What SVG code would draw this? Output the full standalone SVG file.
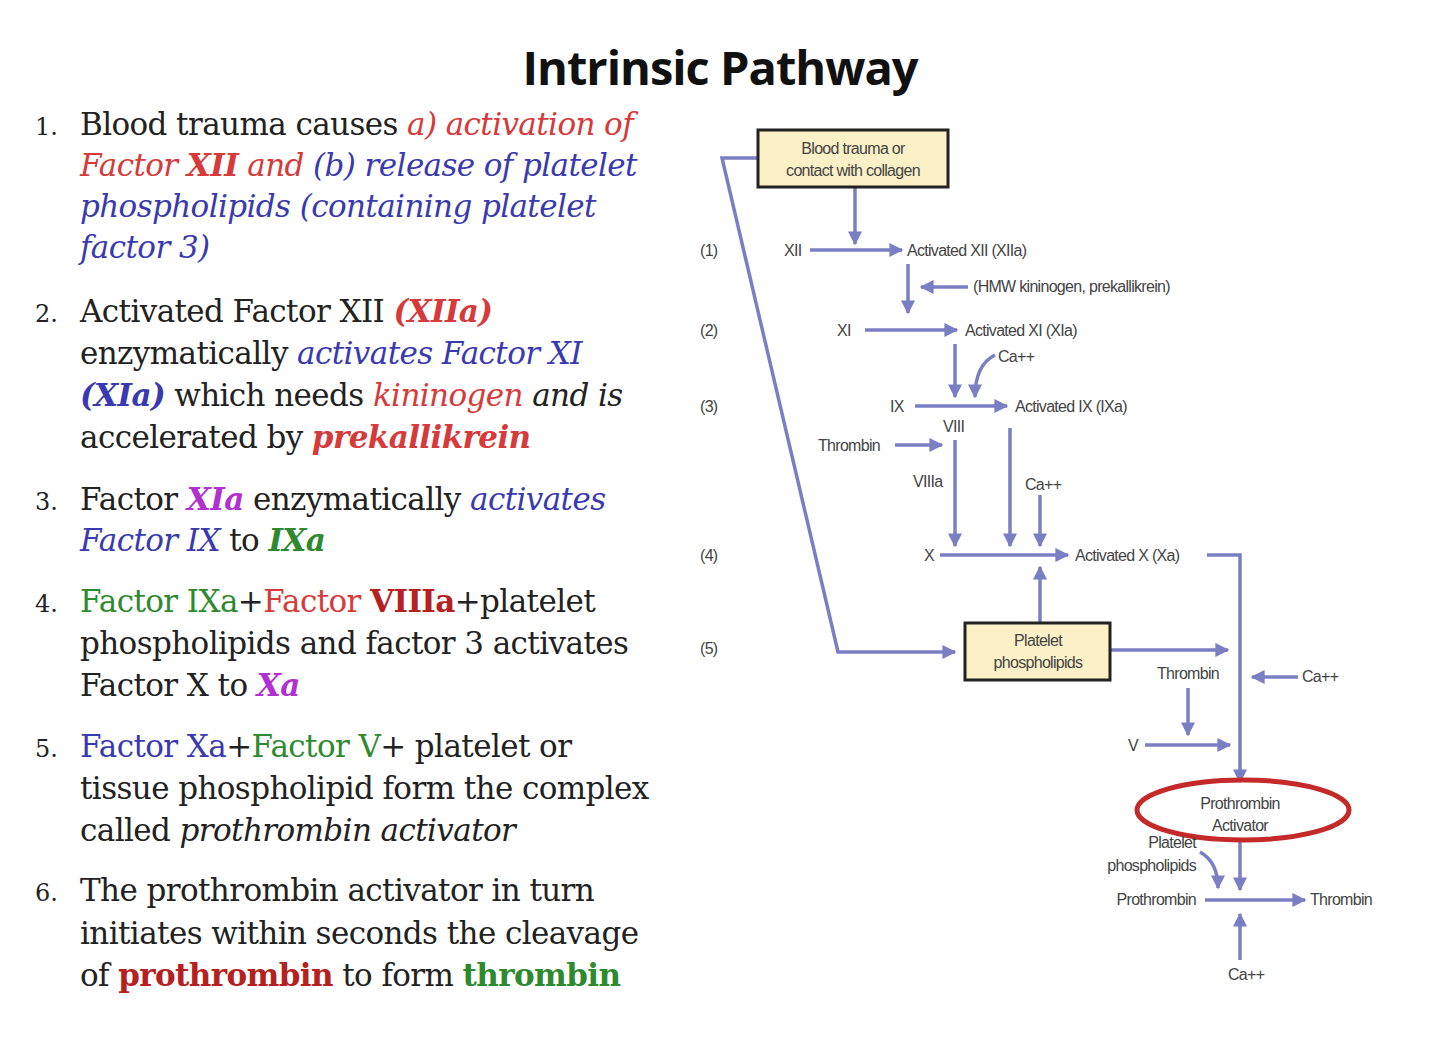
<svg xmlns="http://www.w3.org/2000/svg" width="1440" height="1056" viewBox="0 0 1440 1056">
<defs>
<marker id="ah" viewBox="0 0 10 10" refX="9" refY="5" markerWidth="4" markerHeight="4" orient="auto"><path d="M0,0L10,5L0,10z" fill="#7a7fc4"/></marker>
<style>
.t{font-family:"DejaVu Serif",serif;font-size:31px;fill:#222;letter-spacing:-0.6px}
.n{font-family:"DejaVu Serif",serif;font-size:24px;fill:#222}
.r{fill:#d63a3a;font-style:italic}
.b{fill:#3a3ab0;font-style:italic}
.m{fill:#b030d0;font-style:italic;font-weight:bold}
.g{fill:#2f8a2f}
.dr{fill:#b52020;font-weight:bold}
.s{font-family:"Liberation Sans",Arial,sans-serif;font-size:16px;fill:#444;letter-spacing:-0.7px}
.ln{stroke:#7a7fc4;stroke-width:3.5;fill:none}
.a{stroke:#7a7fc4;stroke-width:3.5;fill:none;marker-end:url(#ah)}
.box{fill:#fbf0c6;stroke:#222;stroke-width:3}
</style>
</defs>
<rect width="1440" height="1056" fill="#fff"/>
<text x="720" y="85" text-anchor="middle" font-family="Open Sans,sans-serif" font-weight="bold" font-size="47" fill="#111" letter-spacing="-1">Intrinsic Pathway</text>

<g id="list">
<text class="n" x="35" y="135">1.</text>
<text class="t" x="80" y="135">Blood trauma causes <tspan class="r"> a) activation of</tspan></text>
<text class="t r" x="80" y="176">Factor <tspan font-weight="bold">XII</tspan> and <tspan class="b">(b) release of platelet</tspan></text>
<text class="t b" x="80" y="217">phospholipids (containing platelet</text>
<text class="t b" x="80" y="258">factor 3)</text>
<text class="n" x="35" y="322">2.</text>
<text class="t" x="80" y="322">Activated Factor XII <tspan class="r" font-weight="bold">(XIIa)</tspan></text>
<text class="t" x="80" y="364">enzymatically <tspan class="b">activates Factor XI</tspan></text>
<text class="t" x="80" y="406"><tspan class="b" font-weight="bold">(XIa)</tspan> which needs <tspan class="r">kininogen</tspan> <tspan font-style="italic">and  is</tspan></text>
<text class="t" x="80" y="448">accelerated by <tspan class="r" font-weight="bold">prekallikrein</tspan></text>
<text class="n" x="35" y="510">3.</text>
<text class="t" x="80" y="510">Factor <tspan class="m">XIa</tspan> enzymatically <tspan class="b">activates</tspan></text>
<text class="t" x="80" y="551"><tspan class="b">Factor IX</tspan>  to <tspan class="g" font-style="italic" font-weight="bold">IXa</tspan></text>
<text class="n" x="35" y="612">4.</text>
<text class="t" x="80" y="612"><tspan class="g">Factor IXa</tspan>+<tspan fill="#d63a3a">Factor </tspan><tspan class="dr">VIIIa</tspan>+platelet</text>
<text class="t" x="80" y="654">phospholipids and factor 3 activates</text>
<text class="t" x="80" y="696">Factor X to <tspan class="m">Xa</tspan></text>
<text class="n" x="35" y="757">5.</text>
<text class="t" x="80" y="757"><tspan fill="#3a3ab0">Factor Xa</tspan>+<tspan class="g">Factor V</tspan>+ platelet or</text>
<text class="t" x="80" y="799">tissue phospholipid form the complex</text>
<text class="t" x="80" y="841">called <tspan font-style="italic">prothrombin activator</tspan></text>
<text class="n" x="35" y="901">6.</text>
<text class="t" x="80" y="901">The prothrombin activator in turn</text>
<text class="t" x="80" y="944">initiates within seconds the cleavage</text>
<text class="t" x="80" y="986">of <tspan class="dr">prothrombin</tspan> to form <tspan class="g" font-weight="bold">thrombin</tspan></text>
</g>

<g id="connectors">
<polyline class="a" points="758,158 722,158 838,652 955,652"/>
<line class="a" x1="855" y1="187" x2="855" y2="244"/>
<line class="a" x1="810" y1="250" x2="902" y2="250"/>
<line class="a" x1="908" y1="264" x2="908" y2="313"/>
<line class="a" x1="968" y1="287" x2="921" y2="287"/>
<line class="a" x1="865" y1="330" x2="957" y2="330"/>
<line class="a" x1="955" y1="344" x2="955" y2="397"/>
<path class="a" d="M995,355 Q975,365 975,397"/>
<line class="a" x1="915" y1="406" x2="1007" y2="406"/>
<line class="a" x1="895" y1="445" x2="942" y2="445"/>
<line class="a" x1="955" y1="440" x2="955" y2="546"/>
<line class="a" x1="1010" y1="428" x2="1010" y2="546"/>
<line class="a" x1="1040" y1="495" x2="1040" y2="546"/>
<line class="a" x1="940" y1="555" x2="1068" y2="555"/>
<polyline class="a" points="1207,555 1240,555 1240,782"/>
<line class="a" x1="1040" y1="622" x2="1040" y2="567"/>
<line class="a" x1="1110" y1="650" x2="1228" y2="650"/>
<line class="a" x1="1298" y1="677" x2="1252" y2="677"/>
<line class="a" x1="1188" y1="688" x2="1188" y2="735"/>
<line class="a" x1="1145" y1="745" x2="1230" y2="745"/>
<line class="a" x1="1240" y1="842" x2="1240" y2="890"/>
<path class="a" d="M1200,852 Q1218,862 1218,888"/>
<line class="a" x1="1205" y1="900" x2="1305" y2="900"/>
<line class="a" x1="1240" y1="960" x2="1240" y2="914"/>
</g>

<g id="n-blood"><rect class="box" x="758" y="130" width="190" height="57"/>
<text class="s" x="853" y="154" text-anchor="middle">Blood trauma or</text>
<text class="s" x="853" y="176" text-anchor="middle">contact with collagen</text></g>
<g id="n-platelet"><rect class="box" x="965" y="623" width="145" height="57"/>
<text class="s" x="1038" y="646" text-anchor="middle">Platelet</text>
<text class="s" x="1038" y="668" text-anchor="middle">phospholipids</text></g>
<g id="n-activator"><ellipse cx="1243" cy="810" rx="106" ry="30" fill="none" stroke="#c42a2a" stroke-width="5"/>
<text class="s" x="1240" y="809" text-anchor="middle">Prothrombin</text>
<text class="s" x="1240" y="831" text-anchor="middle">Activator</text></g>

<g id="labels">
<text class="s" x="700" y="256">(1)</text>
<text class="s" x="700" y="336">(2)</text>
<text class="s" x="700" y="412">(3)</text>
<text class="s" x="700" y="561">(4)</text>
<text class="s" x="700" y="654">(5)</text>
<text class="s" x="784" y="256">XII</text>
<text class="s" x="907" y="256">Activated XII (XIIa)</text>
<text class="s" x="973" y="292">(HMW kininogen, prekallikrein)</text>
<text class="s" x="837" y="336">XI</text>
<text class="s" x="965" y="336">Activated XI (XIa)</text>
<text class="s" x="998" y="362">Ca++</text>
<text class="s" x="890" y="412">IX</text>
<text class="s" x="1015" y="412">Activated IX (IXa)</text>
<text class="s" x="943" y="432">VIII</text>
<text class="s" x="818" y="451">Thrombin</text>
<text class="s" x="913" y="487">VIIIa</text>
<text class="s" x="1025" y="490">Ca++</text>
<text class="s" x="924" y="561">X</text>
<text class="s" x="1075" y="561">Activated X (Xa)</text>
<text class="s" x="1188" y="679" text-anchor="middle">Thrombin</text>
<text class="s" x="1302" y="682">Ca++</text>
<text class="s" x="1128" y="751">V</text>
<text class="s" x="1196" y="848" text-anchor="end">Platelet</text>
<text class="s" x="1196" y="871" text-anchor="end">phospholipids</text>
<text class="s" x="1196" y="905" text-anchor="end">Prothrombin</text>
<text class="s" x="1310" y="905">Thrombin</text>
<text class="s" x="1228" y="980">Ca++</text>
</g>
</svg>
